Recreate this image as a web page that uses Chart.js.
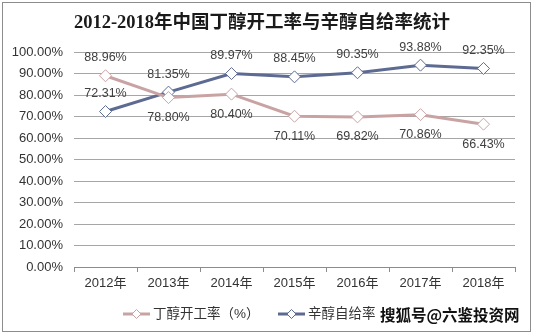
<!DOCTYPE html>
<html><head><meta charset="utf-8">
<script src="https://cdn.jsdelivr.net/npm/chart.js@4"></script>
<style>
html,body{margin:0;padding:0;background:#fff;}
#wrap{position:relative;width:533px;height:334px;}
</style></head>
<body><div id="wrap"><canvas id="c" width="533" height="334"></canvas></div>
<script>
const categories = ['2012年','2013年','2014年','2015年','2016年','2017年','2018年'];
const butanolRate = [88.96, 78.80, 80.40, 70.11, 69.82, 70.86, 66.43];
const octanolRate = [72.31, 81.35, 89.97, 88.45, 90.35, 93.88, 92.35];
const butanolLabelPos = ['above','below','below','below','below','below','below'];
const octanolLabelPos = ['above','above','above','above','above','above','above'];
const seriesNames = ['丁醇开工率（%）','辛醇自给率'];
const titleText = '2012-2018年中国丁醇开工率与辛醇自给率统计';
const watermark = '搜狐号@六鉴投资网';

const C1 = '#c9a3a4', C2 = '#5d6b92';
const SANS = '"Liberation Sans", Arial, "Noto Sans CJK SC", sans-serif';

const deco = {
  id:'deco',
  afterDraw(chart){
    const ctx = chart.ctx;
    ctx.save();
    ctx.strokeStyle = '#8c8c8c'; ctx.lineWidth = 1;
    ctx.strokeRect(2.5, 2.5, 528, 329);
    ctx.fillStyle = '#1a1a1a';
    ctx.font = 'bold 18.5px "Liberation Serif", "Noto Sans CJK SC", serif';
    ctx.textAlign = 'center'; ctx.textBaseline = 'middle';
    ctx.fillText(titleText, 262, 23);
    ctx.font = '12.5px ' + SANS;
    ctx.fillStyle = '#404040';
    const labelPos = [butanolLabelPos, octanolLabelPos];
    chart.data.datasets.forEach((ds, di) => {
      const meta = chart.getDatasetMeta(di);
      meta.data.forEach((pt, i) => {
        const y = labelPos[di][i] === 'above' ? pt.y - 18 : pt.y + 20;
        ctx.fillText(ds.data[i].toFixed(2) + '%', pt.x, y);
      });
    });
    const items = [{x:123, c:C1, t:seriesNames[0]}, {x:278, c:C2, t:seriesNames[1]}];
    const ly = 314;
    items.forEach(it => {
      ctx.strokeStyle = it.c; ctx.lineWidth = 3;
      ctx.beginPath(); ctx.moveTo(it.x, ly); ctx.lineTo(it.x + 27, ly); ctx.stroke();
      ctx.fillStyle = '#fff'; ctx.strokeStyle = it.c; ctx.lineWidth = 1;
      ctx.beginPath();
      const cx = it.x + 13.5;
      ctx.moveTo(cx, ly - 4.5); ctx.lineTo(cx + 4.5, ly); ctx.lineTo(cx, ly + 4.5); ctx.lineTo(cx - 4.5, ly); ctx.closePath();
      ctx.fill(); ctx.stroke();
      ctx.fillStyle = '#333';
      ctx.font = '13.5px ' + SANS;
      ctx.textAlign = 'left';
      ctx.fillText(it.t, it.x + 30, ly);
    });
    ctx.font = 'bold 15.5px "Noto Sans CJK SC", sans-serif';
    ctx.fillStyle = '#111';
    ctx.textAlign = 'left';
    ctx.fillText(watermark, 380, 315);
    ctx.restore();
  }
};

new Chart(document.getElementById('c'), {
  type:'line',
  data:{
    labels: categories,
    datasets:[
      {label:seriesNames[0], data:butanolRate, borderColor:C1, borderWidth:3, pointStyle:'rectRot', pointRadius:6, pointBackgroundColor:'#fff', pointBorderColor:C1, pointBorderWidth:1, tension:0},
      {label:seriesNames[1], data:octanolRate, borderColor:C2, borderWidth:3, pointStyle:'rectRot', pointRadius:6, pointBackgroundColor:'#fff', pointBorderColor:C2, pointBorderWidth:1, tension:0}
    ]
  },
  options:{
    responsive:false, animation:false,
    layout:{padding:{top:52, right:18, left:0, bottom:0}},
    plugins:{legend:{display:false}, title:{display:false}, tooltip:{enabled:false}},
    scales:{
      x:{
        offset:true,
        grid:{offset:true, drawOnChartArea:false, drawTicks:true, tickLength:5, color:'#8c8c8c'},
        border:{display:true, color:'#8c8c8c'},
        ticks:{font:{size:13, family:SANS}, color:'#333', padding:4, maxRotation:0},
        afterFit(s){ s.height = 67; }
      },
      y:{
        min:0, max:100,
        ticks:{stepSize:10, callback:v => v.toFixed(2) + '%', font:{size:13, family:SANS}, color:'#333', padding:11},
        grid:{color:'#a6a6a6', drawTicks:false},
        border:{display:false},
        afterFit(s){ s.width = 74; }
      }
    }
  },
  plugins:[deco]
});
</script></body></html>
